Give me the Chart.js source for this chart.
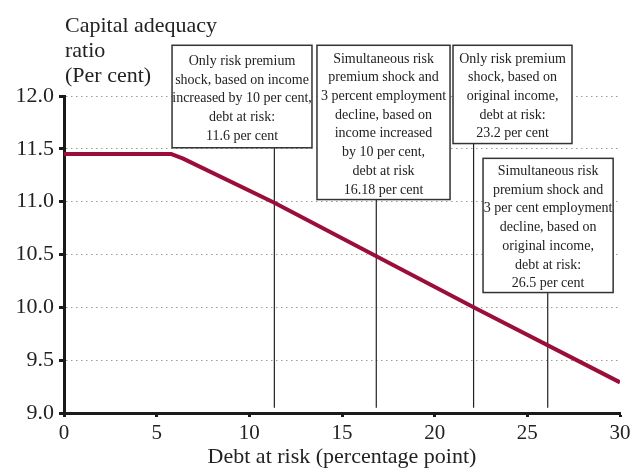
<!DOCTYPE html>
<html>
<head>
<meta charset="utf-8">
<script src="https://cdn.jsdelivr.net/npm/chart.js@4.4.1/dist/chart.umd.min.js"></script>
<style>
  body { margin: 0; background: #fff; }
</style>
</head>
<body>
<canvas id="chart" width="632" height="473"></canvas>
<script>
// Data
const debtAtRisk = [0, 5.8, 6.4, 11.35, 22.1, 30];
const capitalRatio = [11.45, 11.45, 11.41, 10.99, 10.0, 9.29];

// Vertical marker lines (debt at risk of each scenario, as drawn)
const markerX = [11.35, 16.85, 22.1, 26.1];
const markerTop = [11.51, 11.02, 11.55, 10.14];
const markerBottom = 9.05;

const yTitle = ['Capital adequacy', 'ratio', '(Per cent)'];
const xTitle = 'Debt at risk (percentage point)';

const boxTexts = [
    ['Only risk premium', 'shock, based on income', 'increased by 10 per cent,', 'debt at risk:', '11.6 per cent'],
    ['Simultaneous risk', 'premium shock and', '3 percent employment', 'decline, based on', 'income increased', 'by 10 per cent,', 'debt at risk', '16.18 per cent'],
    ['Only risk premium', 'shock, based on', 'original income,', 'debt at risk:', '23.2 per cent'],
    ['Simultaneous risk', 'premium shock and', '3 per cent employment', 'decline, based on', 'original income,', 'debt at risk:', '26.5 per cent']
];

// Box placement in axis units (layout only)
const boxPlacement = [
    { x0: 5.83, x1: 13.38, top: 12.48, bottom: 11.51 },
    { x0: 13.65, x1: 20.83, top: 12.48, bottom: 11.02 },
    { x0: 20.99, x1: 27.41, top: 12.48, bottom: 11.55 },
    { x0: 22.61, x1: 29.63, top: 11.41, bottom: 10.14 }
];

const serif = '"Liberation Serif", "DejaVu Serif", serif';
const lineColor = '#9b0e3a';

const datasets = [{
    data: debtAtRisk.map((x, i) => ({ x: x, y: capitalRatio[i] })),
    borderColor: lineColor,
    borderWidth: 4,
    borderJoinStyle: 'round',
    borderCapStyle: 'butt',
    pointRadius: 0,
    tension: 0
}];

markerX.forEach((x, i) => {
    datasets.push({
        data: [{ x: x, y: markerBottom }, { x: x, y: markerTop[i] }],
        borderColor: '#222',
        borderWidth: 1.2,
        pointRadius: 0
    });
});

// Draws the text boxes and the y axis heading
const annotationsPlugin = {
    id: 'annotations',
    afterDraw(chart) {
        const ctx = chart.ctx;
        const xs = chart.scales.x;
        const ys = chart.scales.y;
        ctx.save();

        ctx.font = '22px ' + serif;
        ctx.fillStyle = '#222';
        ctx.textAlign = 'left';
        ctx.textBaseline = 'middle';
        yTitle.forEach((t, i) => ctx.fillText(t, 65, 26 + i * 25));

        boxPlacement.forEach((b, i) => {
            const left = xs.getPixelForValue(b.x0);
            const right = xs.getPixelForValue(b.x1);
            const top = ys.getPixelForValue(b.top);
            const bottom = ys.getPixelForValue(b.bottom);
            ctx.fillStyle = '#fff';
            ctx.fillRect(left, top, right - left, bottom - top);
            ctx.strokeStyle = '#333';
            ctx.lineWidth = 1.5;
            ctx.strokeRect(left, top, right - left, bottom - top);

            const lines = boxTexts[i];
            const lh = 18.7;
            const cx = (left + right) / 2;
            const cy = (top + bottom) / 2 + 2;
            ctx.font = '14px ' + serif;
            ctx.fillStyle = '#222';
            ctx.textAlign = 'center';
            ctx.textBaseline = 'middle';
            lines.forEach((t, j) => {
                ctx.fillText(t, cx, cy + (j - (lines.length - 1) / 2) * lh);
            });
        });
        ctx.restore();
    }
};

new Chart(document.getElementById('chart'), {
    type: 'line',
    data: { datasets: datasets },
    options: {
        responsive: false,
        animation: false,
        layout: { padding: { top: 96, right: 12, left: 0, bottom: 0 } },
        plugins: {
            legend: { display: false },
            tooltip: { enabled: false }
        },
        scales: {
            x: {
                type: 'linear',
                min: 0,
                max: 30,
                border: { color: '#1a1a1a', width: 3 },
                grid: {
                    drawOnChartArea: false,
                    drawTicks: true,
                    tickLength: 4,
                    tickColor: '#1a1a1a',
                    tickWidth: 3
                },
                ticks: {
                    stepSize: 5,
                    color: '#222',
                    font: { family: serif, size: 21 },
                    padding: 4,
                    maxRotation: 0
                },
                title: {
                    display: true,
                    text: xTitle,
                    color: '#222',
                    font: { family: serif, size: 22 },
                    padding: { top: 0, bottom: 3 }
                },
                afterFit(scale) {
                    scale.height = 60;
                    scale.paddingLeft = 0;
                    scale.paddingRight = 0;
                }
            },
            y: {
                min: 9,
                max: 12,
                border: { color: '#1a1a1a', width: 3, dash: [1.5, 3.5] },
                grid: {
                    color: '#9a9a9a',
                    lineWidth: 1,
                    tickBorderDash: [],
                    tickColor: '#1a1a1a',
                    tickWidth: 3,
                    tickLength: 5
                },
                ticks: {
                    stepSize: 0.5,
                    color: '#222',
                    font: { family: serif, size: 22 },
                    padding: 5,
                    callback: v => v.toFixed(1)
                },
                afterFit(scale) { scale.width = 64; }
            }
        }
    },
    plugins: [annotationsPlugin]
});
</script>
</body>
</html>
